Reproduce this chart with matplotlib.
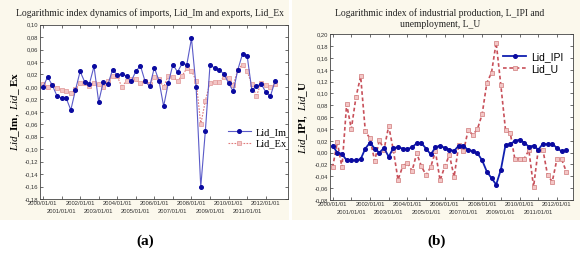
import matplotlib
matplotlib.use("Agg")
import matplotlib.pyplot as plt
from matplotlib.patches import Rectangle
from matplotlib.ticker import FuncFormatter, FixedLocator
import numpy as np

# ---- data (quarterly, 2000Q1 .. 2012Q3) ----
start_year = 2000
n_quarters = 51

lid_im = [0.000, 0.016, 0.003, -0.014, -0.018, -0.018, -0.037, -0.005, 0.025, 0.008,
          0.005, 0.033, -0.024, 0.008, 0.004, 0.028, 0.019, 0.020, 0.018, 0.009,
          0.025, 0.034, 0.009, 0.001, 0.031, 0.010, -0.031, 0.006, 0.036, 0.024,
          0.038, 0.036, 0.078, 0.000, -0.161, -0.070, 0.036, 0.030, 0.027, 0.021,
          0.006, -0.007, 0.028, 0.053, 0.050, -0.005, 0.001, 0.005, -0.008, -0.015,
          0.009]
lid_ex = [0.005, 0.000, 0.003, -0.001, -0.005, -0.007, -0.010, -0.004, 0.006, 0.006,
          0.002, 0.007, 0.004, 0.000, 0.010, 0.018, 0.017, 0.000, 0.010, 0.012,
          0.012, 0.006, 0.010, 0.005, 0.016, 0.012, 0.000, 0.018, 0.016, 0.010,
          0.018, 0.030, 0.026, 0.010, -0.060, -0.022, 0.007, 0.008, 0.008, 0.016,
          0.015, 0.003, 0.028, 0.036, 0.025, 0.004, -0.015, 0.007, 0.003, 0.000,
          0.004]
lid_ipi = [0.012, 0.000, -0.002, -0.013, -0.013, -0.013, -0.011, 0.007, 0.017, 0.007,
           0.000, 0.008, -0.007, 0.008, 0.009, 0.007, 0.006, 0.009, 0.016, 0.016,
           0.007, -0.003, 0.009, 0.012, 0.008, 0.005, 0.003, 0.012, 0.012, 0.004,
           0.003, -0.001, -0.013, -0.032, -0.043, -0.054, -0.029, 0.013, 0.014, 0.020,
           0.022, 0.017, 0.010, 0.012, 0.005, 0.015, 0.014, 0.015, 0.008, 0.002,
           0.004]
lid_u = [-0.025, 0.018, -0.025, 0.082, 0.040, 0.094, 0.129, 0.036, 0.024, -0.014,
         0.021, 0.005, 0.045, 0.004, -0.046, -0.023, -0.017, -0.031, -0.001, -0.023,
         -0.038, -0.024, 0.002, -0.047, -0.023, -0.004, -0.041, 0.013, 0.002, 0.038,
         0.030, 0.040, 0.065, 0.118, 0.135, 0.186, 0.114, 0.038, 0.034, -0.011,
         -0.010, -0.010, 0.004, -0.058, 0.005, 0.005, -0.038, -0.049, -0.011, -0.011,
         -0.032]
even_years = list(range(2000, 2013, 2))
odd_years = list(range(2001, 2013, 2))

title_a = "Logarithmic index dynamics of imports, Lid_Im and exports, Lid_Ex"
title_b = "Logarithmic index of industrial production, L_IPI and\nunemployment, L_U"

# ---- style ----
plt.rcParams['mathtext.fontset'] = 'custom'
plt.rcParams['mathtext.rm'] = 'Liberation Serif'
plt.rcParams['mathtext.it'] = 'Liberation Serif:italic'
plt.rcParams['mathtext.bf'] = 'Liberation Serif:bold'

W, H = 580, 262
fig = plt.figure(figsize=(W / 100, H / 100), dpi=100)
fig.patch.set_facecolor('white')

beige = '#fbf8ec'
bg1 = Rectangle((0, 1 - 220 / H), 289 / W, 220 / H, transform=fig.transFigure,
                facecolor=beige, edgecolor='none', zorder=-10)
bg2 = Rectangle((292 / W, 1 - 220 / H), (W - 292) / W, 220 / H,
                transform=fig.transFigure, facecolor=beige, edgecolor='none', zorder=-10)
fig.add_artist(bg1)
fig.add_artist(bg2)

x = start_year + np.arange(n_quarters) / 4.0


def px_axes(l, t, r, b):
    ax = fig.add_axes([l / W, 1 - b / H, (r - l) / W, (b - t) / H])
    ax.set_zorder(5)
    return ax


def style_axes(ax, ylo, yhi, xlo, xhi):
    ax.set_facecolor('white')
    ax.set_ylim(ylo, yhi)
    ax.set_xlim(xlo, xhi)
    ax.set_yticks(np.round(np.arange(ylo, yhi + 1e-9, 0.02), 2))
    ax.yaxis.set_major_formatter(FuncFormatter(lambda v, p: f"{v:.2f}".replace('.', ',')))
    ax.xaxis.set_major_locator(FixedLocator(even_years))
    ax.xaxis.set_minor_locator(FixedLocator(odd_years))
    ax.xaxis.set_major_formatter(FuncFormatter(lambda v, p: f"{int(round(v))}/01/01"))
    ax.xaxis.set_minor_formatter(FuncFormatter(lambda v, p: f"{int(round(v))}/01/01"))
    ax.tick_params(axis='both', which='both', labelsize=4.2, length=2, width=0.5,
                   direction='in', top=True, right=True, pad=1.5, colors='#333333')
    ax.tick_params(axis='x', which='minor', pad=7.0)
    for lab in (ax.get_xticklabels() + ax.get_xticklabels(minor=True)
                + ax.get_yticklabels()):
        lab.set_fontfamily('Liberation Sans')
        lab.set_color('#333333')
    for s in ax.spines.values():
        s.set_linewidth(0.6)
        s.set_color('#444444')


# ---- panel (a) ----
ax1 = px_axes(40, 24.7, 288, 199)
ax1.plot(x, lid_im, color='#5a5ac8', lw=0.8, marker='o', ms=2.6,
         mfc='#0a0aa0', mec='#0a0aa0', label='Lid_Im', zorder=3)
ax1.plot(x, lid_ex, color='#e07a7a', lw=0.8, ls=(0, (1.5, 1.2)), marker='s', ms=2.8,
         mfc='#f3c6c6', mec='#e09595', mew=0.5, label='Lid_Ex', zorder=2)
style_axes(ax1, -0.18, 0.10, 1999.84, 2013.2)
fig.text(150 / W, 1 - 13 / H, title_a, ha='center', va='center', fontsize=6.9,
         fontfamily='Liberation Serif', color='#222222')
ax1.set_ylabel(r'$\mathit{Lid}\mathbf{\_Im},\ \mathit{Lid}\mathbf{\_\ Ex}$', fontsize=8,
               labelpad=2)
leg1 = ax1.legend(loc='center left', bbox_to_anchor=(0.72, 0.35), frameon=False,
                  prop={'family': 'Liberation Serif', 'size': 7.5},
                  handlelength=2.2, handletextpad=0.5, labelspacing=0.2)

# ---- panel (b) ----
ax2 = px_axes(330, 34.3, 573, 200)
ax2.plot(x, lid_ipi, color='#1020b0', lw=1.3, marker='o', ms=2.6,
         mfc='#0a0aa0', mec='#0a0aa0', label='Lid_IPI', zorder=3)
ax2.plot(x, lid_u, color='#c8505a', lw=1.2, ls=(0, (2.2, 1.6)), marker='s', ms=2.8,
         mfc='#f3c6c6', mec='#d07a7a', mew=0.5, label='Lid_U', zorder=2)
style_axes(ax2, -0.08, 0.20, 1999.86, 2012.86)
fig.text(440 / W, 1 - 18.5 / H, title_b, ha='center', va='center', fontsize=6.9,
         fontfamily='Liberation Serif', color='#222222', linespacing=1.25)
ax2.set_ylabel(r'$\mathit{Lid}\mathbf{\_IPI},\ \mathit{Lid}\mathbf{\_U}$', fontsize=8,
               labelpad=3)
leg2 = ax2.legend(loc='upper right', bbox_to_anchor=(1.0, 0.95), frameon=False,
                  prop={'family': 'Liberation Sans', 'size': 7.5},
                  handlelength=2.2, handletextpad=0.5, labelspacing=0.2)

# ---- panel labels ----
fig.text(145 / W, 1 - 241 / H, '(a)', ha='center', va='center', fontsize=11,
         fontweight='bold', fontfamily='Liberation Serif')
fig.text(437 / W, 1 - 241 / H, '(b)', ha='center', va='center', fontsize=11,
         fontweight='bold', fontfamily='Liberation Serif')

fig.savefig('out.png', dpi=100, facecolor=fig.get_facecolor())
